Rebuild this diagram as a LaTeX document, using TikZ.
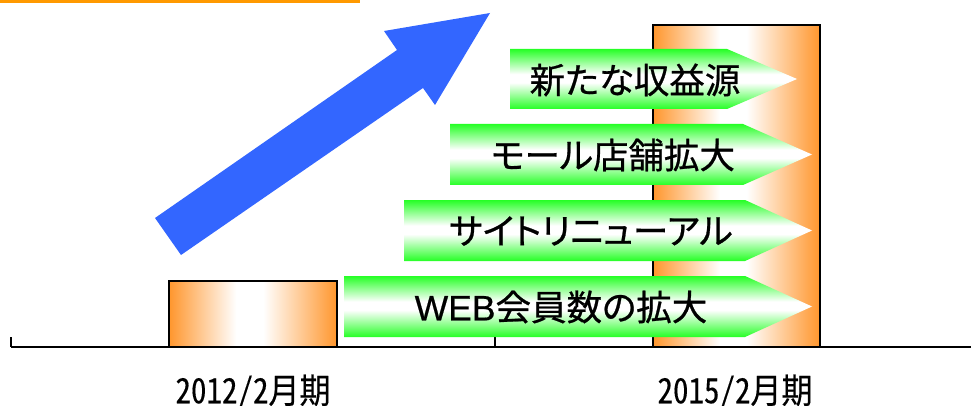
\documentclass[tikz,border=0pt]{standalone}
\usepackage{fontspec}
\newfontfamily\jp{Noto Sans CJK JP}[RawFeature=+palt,FakeBold=0.7]
\newfontfamily\lat{Liberation Sans}[FakeBold=0.5]
\newfontfamily\jplab{Noto Sans CJK JP}[RawFeature=+hwid,FakeBold=0.3]
\definecolor{barorange}{RGB}{255,150,45}
\definecolor{topline}{RGB}{255,153,0}
\definecolor{arrowblue}{RGB}{51,102,255}
\definecolor{sgreen}{RGB}{38,255,38}
\pgfdeclarehorizontalshading{orbar}{100bp}{color(0bp)=(barorange); color(25bp)=(barorange); color(45bp)=(white); color(53bp)=(white); color(75bp)=(barorange); color(100bp)=(barorange)}
\pgfdeclareverticalshading{grbar}{100bp}{color(0bp)=(sgreen); color(25bp)=(sgreen); color(47bp)=(white); color(54bp)=(white); color(75bp)=(sgreen); color(100bp)=(sgreen)}
\tikzset{
  bar/.style={shading=orbar, draw=black, line width=1.2pt},
  grarrow/.style={shading=grbar},
  arrtext/.style={font=\jp\fontsize{35.5}{35.5}\selectfont, inner sep=0pt, anchor=center},
  lab/.style={font=\jplab\fontsize{31}{31}\selectfont, inner sep=0pt, anchor=center},
}
\begin{document}
\begin{tikzpicture}[x=1pt,y=-1pt]
\useasboundingbox (0,0) rectangle (971,406);
% top orange line
\fill[topline] (0,0) rectangle (360,3.5);
% bars
\path[bar] (169,281) rectangle (337,347);
\path[bar] (653,25) rectangle (820,347);
% axis
\coordinate (axL) at (11,347);
\coordinate (axR) at (971,347);
\draw[line width=2pt] (axL) -- (axR);
\draw[line width=1.2pt] (11,337) -- (axL);
\draw[line width=1.2pt] (495,337) -- (495,347);
% blue arrow
\fill[arrowblue] (155,218) -- (397,50) -- (384,31) -- (490,13) -- (435,105) -- (423,88) -- (181,255) -- cycle;
% green arrows
\path[grarrow] (510,49) -- (727,49) -- (797,79) -- (727,109) -- (510,109) -- cycle;
\path[grarrow] (450,124) -- (743,124) -- (812,154.5) -- (743,185) -- (450,185) -- cycle;
\path[grarrow] (404,200) -- (745,200) -- (812,230.5) -- (745,261) -- (404,261) -- cycle;
\path[grarrow] (344,276) -- (745,276) -- (812,306.5) -- (745,337) -- (344,337) -- cycle;
\node[arrtext] (t1) at (635,80) {新たな収益源};
\node[arrtext] (t2) at (613,155) {モール店舗拡大};
\node[arrtext] (t3) at (591,231) {サイトリニューアル};
\node[arrtext] (t4) at (561,307) {{\lat WEB}会員数の拡大};
% labels
\node[lab] (l1) at (253,392) {\scalebox{1}[1.12]{2012/2月期}};
\node[lab] (l2) at (735,392) {\scalebox{1}[1.12]{2015/2月期}};
\end{tikzpicture}
\end{document}
